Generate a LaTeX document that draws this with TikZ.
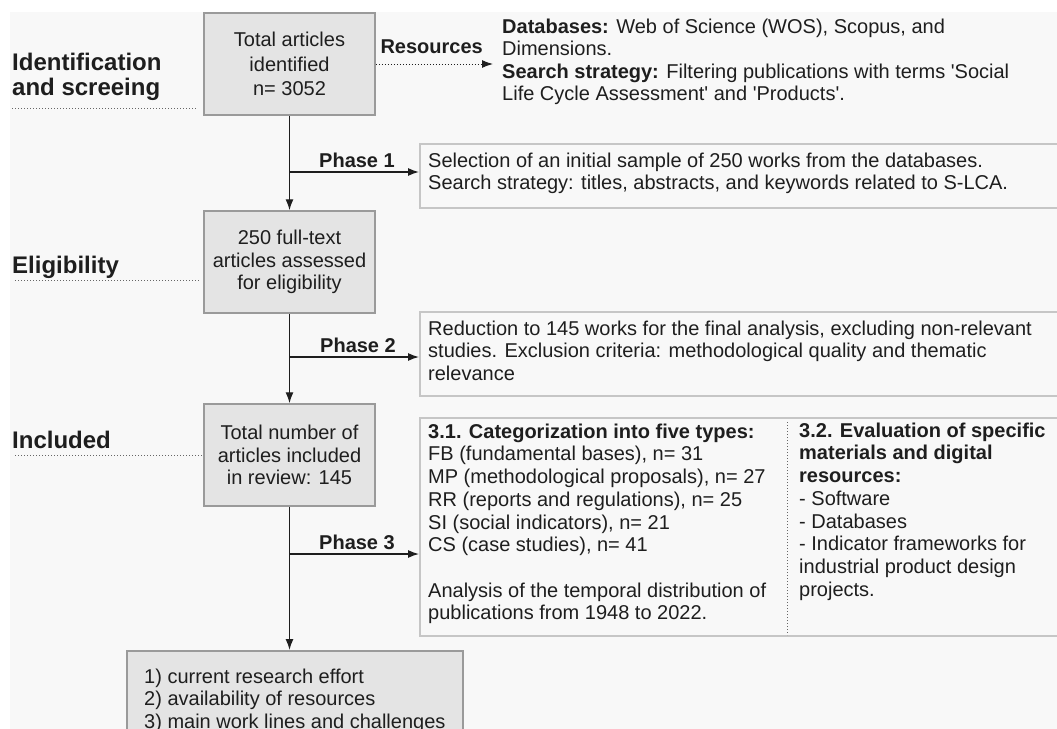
\documentclass[tikz,border=0pt]{standalone}
\usepackage{fontspec}
\newfontfamily\lsans{Liberation Sans}
\usetikzlibrary{arrows.meta}
\definecolor{bg}{HTML}{F8F8F8}
\definecolor{boxfill}{HTML}{E4E4E4}
\definecolor{boxline}{HTML}{9A9A9A}
\definecolor{rline}{HTML}{C6C6C6}
\definecolor{ink}{HTML}{1E1E1E}
\definecolor{dotc}{HTML}{666666}
\newcommand\fr{\rule{0pt}{15.5pt}}
\begin{document}
\begin{tikzpicture}[x=1pt,y=-1pt,
  txt/.style={text=ink,font=\lsans\fontsize{20}{22.5}\selectfont,inner sep=0pt,align=left,anchor=north west},
  txtb/.style={txt,font=\lsans\fontsize{20}{22.7}\selectfont},
  lbox/.style={draw=boxline,fill=boxfill,line width=1.5pt,minimum width=171pt,minimum height=102pt,inner sep=0pt,align=center,text=ink},
  rbox/.style={draw=rline,fill=bg,line width=1.5pt,inner sep=0pt,anchor=north west,minimum width=660pt},
  seclabel/.style={text=ink,font=\lsans\bfseries\fontsize{24}{25}\selectfont,inner sep=0pt,align=left,anchor=base west},
  plabel/.style={text=ink,font=\lsans\bfseries\fontsize{20}{22}\selectfont,inner sep=0pt,anchor=base east},
  arr/.style={draw=ink,line width=1.3pt,-{Latex[length=11pt,width=8pt]}},
  secline/.style={draw=dotc,line width=1pt,dotted},
]
\useasboundingbox (0,0) rectangle (1057,728);
\clip (0,0) rectangle (1057,728);
\fill[white] (0,0) rectangle (1057,728);
\fill[bg] (10,12) rectangle (1060,740);

% left column boxes
\node[lbox,font=\lsans\fontsize{20}{24.5}\selectfont] (b1) at (289.5,64) {Total articles\\identified\\n= 3052};
\node[lbox,font=\lsans\fontsize{20}{22.5}\selectfont] (b2) at (289.5,262) {250 full-text\\articles assessed\\for eligibility};
\node[lbox,font=\lsans\fontsize{20}{22.5}\selectfont] (b3) at (289.5,455) {Total number of\\articles included\\in review: 145};
\node[lbox,anchor=north west,minimum width=336pt,minimum height=100pt] (b4) at (126,650) {};
\node[txt] (t4) at (144,667.5) {\fr 1) current research effort\\2) availability of resources\\3) main work lines and challenges};

% section labels
\node[seclabel] (s1) at (12,70) {Identification};
\node[seclabel] (s1b) at (12,95) {and screeing};
\node[seclabel] (s2) at (12,273) {Eligibility};
\node[seclabel] (s3) at (12,448) {Included};
\coordinate (d1a) at (12,108); \coordinate (d1b) at (197,108);
\coordinate (d2a) at (15,280); \coordinate (d2b) at (200,280);
\coordinate (d3a) at (15,455); \coordinate (d3b) at (202,455);
\draw[secline] (d1a) -- (d1b);
\draw[secline] (d2a) -- (d2b);
\draw[secline] (d3a) -- (d3b);

% resources
\node[plabel] (res) at (483,53) {Resources};
\coordinate (rt) at (493,64);
\draw[draw=ink,line width=1pt,dotted,-{Latex[length=11pt,width=8pt]}] (b1.east) -- (rt);
\node[txt] (rtext) at (502,17.5) {\fr\textbf{Databases:} Web of Science (WOS), Scopus, and\\Dimensions.\\\textbf{Search strategy:} Filtering publications with terms 'Social\\Life Cycle Assessment' and 'Products'.};

% phase boxes
\node[rbox,minimum height=64pt] (p1) at (419,143) {};
\node[txt] (p1t) at (428,151.5) {\fr Selection of an initial sample of 250 works from the databases.\\Search strategy: titles, abstracts, and keywords related to S-LCA.};
\node[rbox,minimum height=84pt] (p2) at (419,311) {};
\node[txt] (p2t) at (428,319.5) {\fr Reduction to 145 works for the final analysis, excluding non-relevant\\studies. Exclusion criteria: methodological quality and thematic\\relevance};
\node[rbox,minimum height=218pt] (p3) at (419,417) {};
\node[txtb] (p3l) at (428,422.5) {\fr\textbf{3.1. Categorization into five types:}\\FB (fundamental bases), n= 31\\MP (methodological proposals), n= 27\\RR (reports and regulations), n= 25\\SI (social indicators), n= 21\\CS (case studies), n= 41\\[22.7pt]Analysis of the temporal distribution of\\publications from 1948 to 2022.};
\node[txtb] (p3r) at (799,421.5) {\fr\textbf{3.2. Evaluation of specific}\\\textbf{materials and digital}\\\textbf{resources:}\\- Software\\- Databases\\- Indicator frameworks for\\industrial product design\\projects.};
\coordinate (dv1) at (787,422); \coordinate (dv2) at (787,635);
\draw[secline] (dv1) -- (dv2);

% main flow
\draw[arr] (b1.south) -- (b2.north);
\draw[arr] (b2.south) -- (b3.north);
\draw[arr] (b3.south) -- (b3.south |- b4.north);

% phase arrows
\coordinate (j1) at (290,172);
\coordinate (j2) at (290,357);
\coordinate (j3) at (290,554);
\draw[arr] (j1) -- (j1 -| p1.west);
\draw[arr] (j2) -- (j2 -| p2.west);
\draw[arr] (j3) -- (j3 -| p3.west);
\node[plabel] (l1) at (395,167) {Phase 1};
\node[plabel] (l2) at (396,352) {Phase 2};
\node[plabel] (l3) at (395,549) {Phase 3};
\end{tikzpicture}
\end{document}
